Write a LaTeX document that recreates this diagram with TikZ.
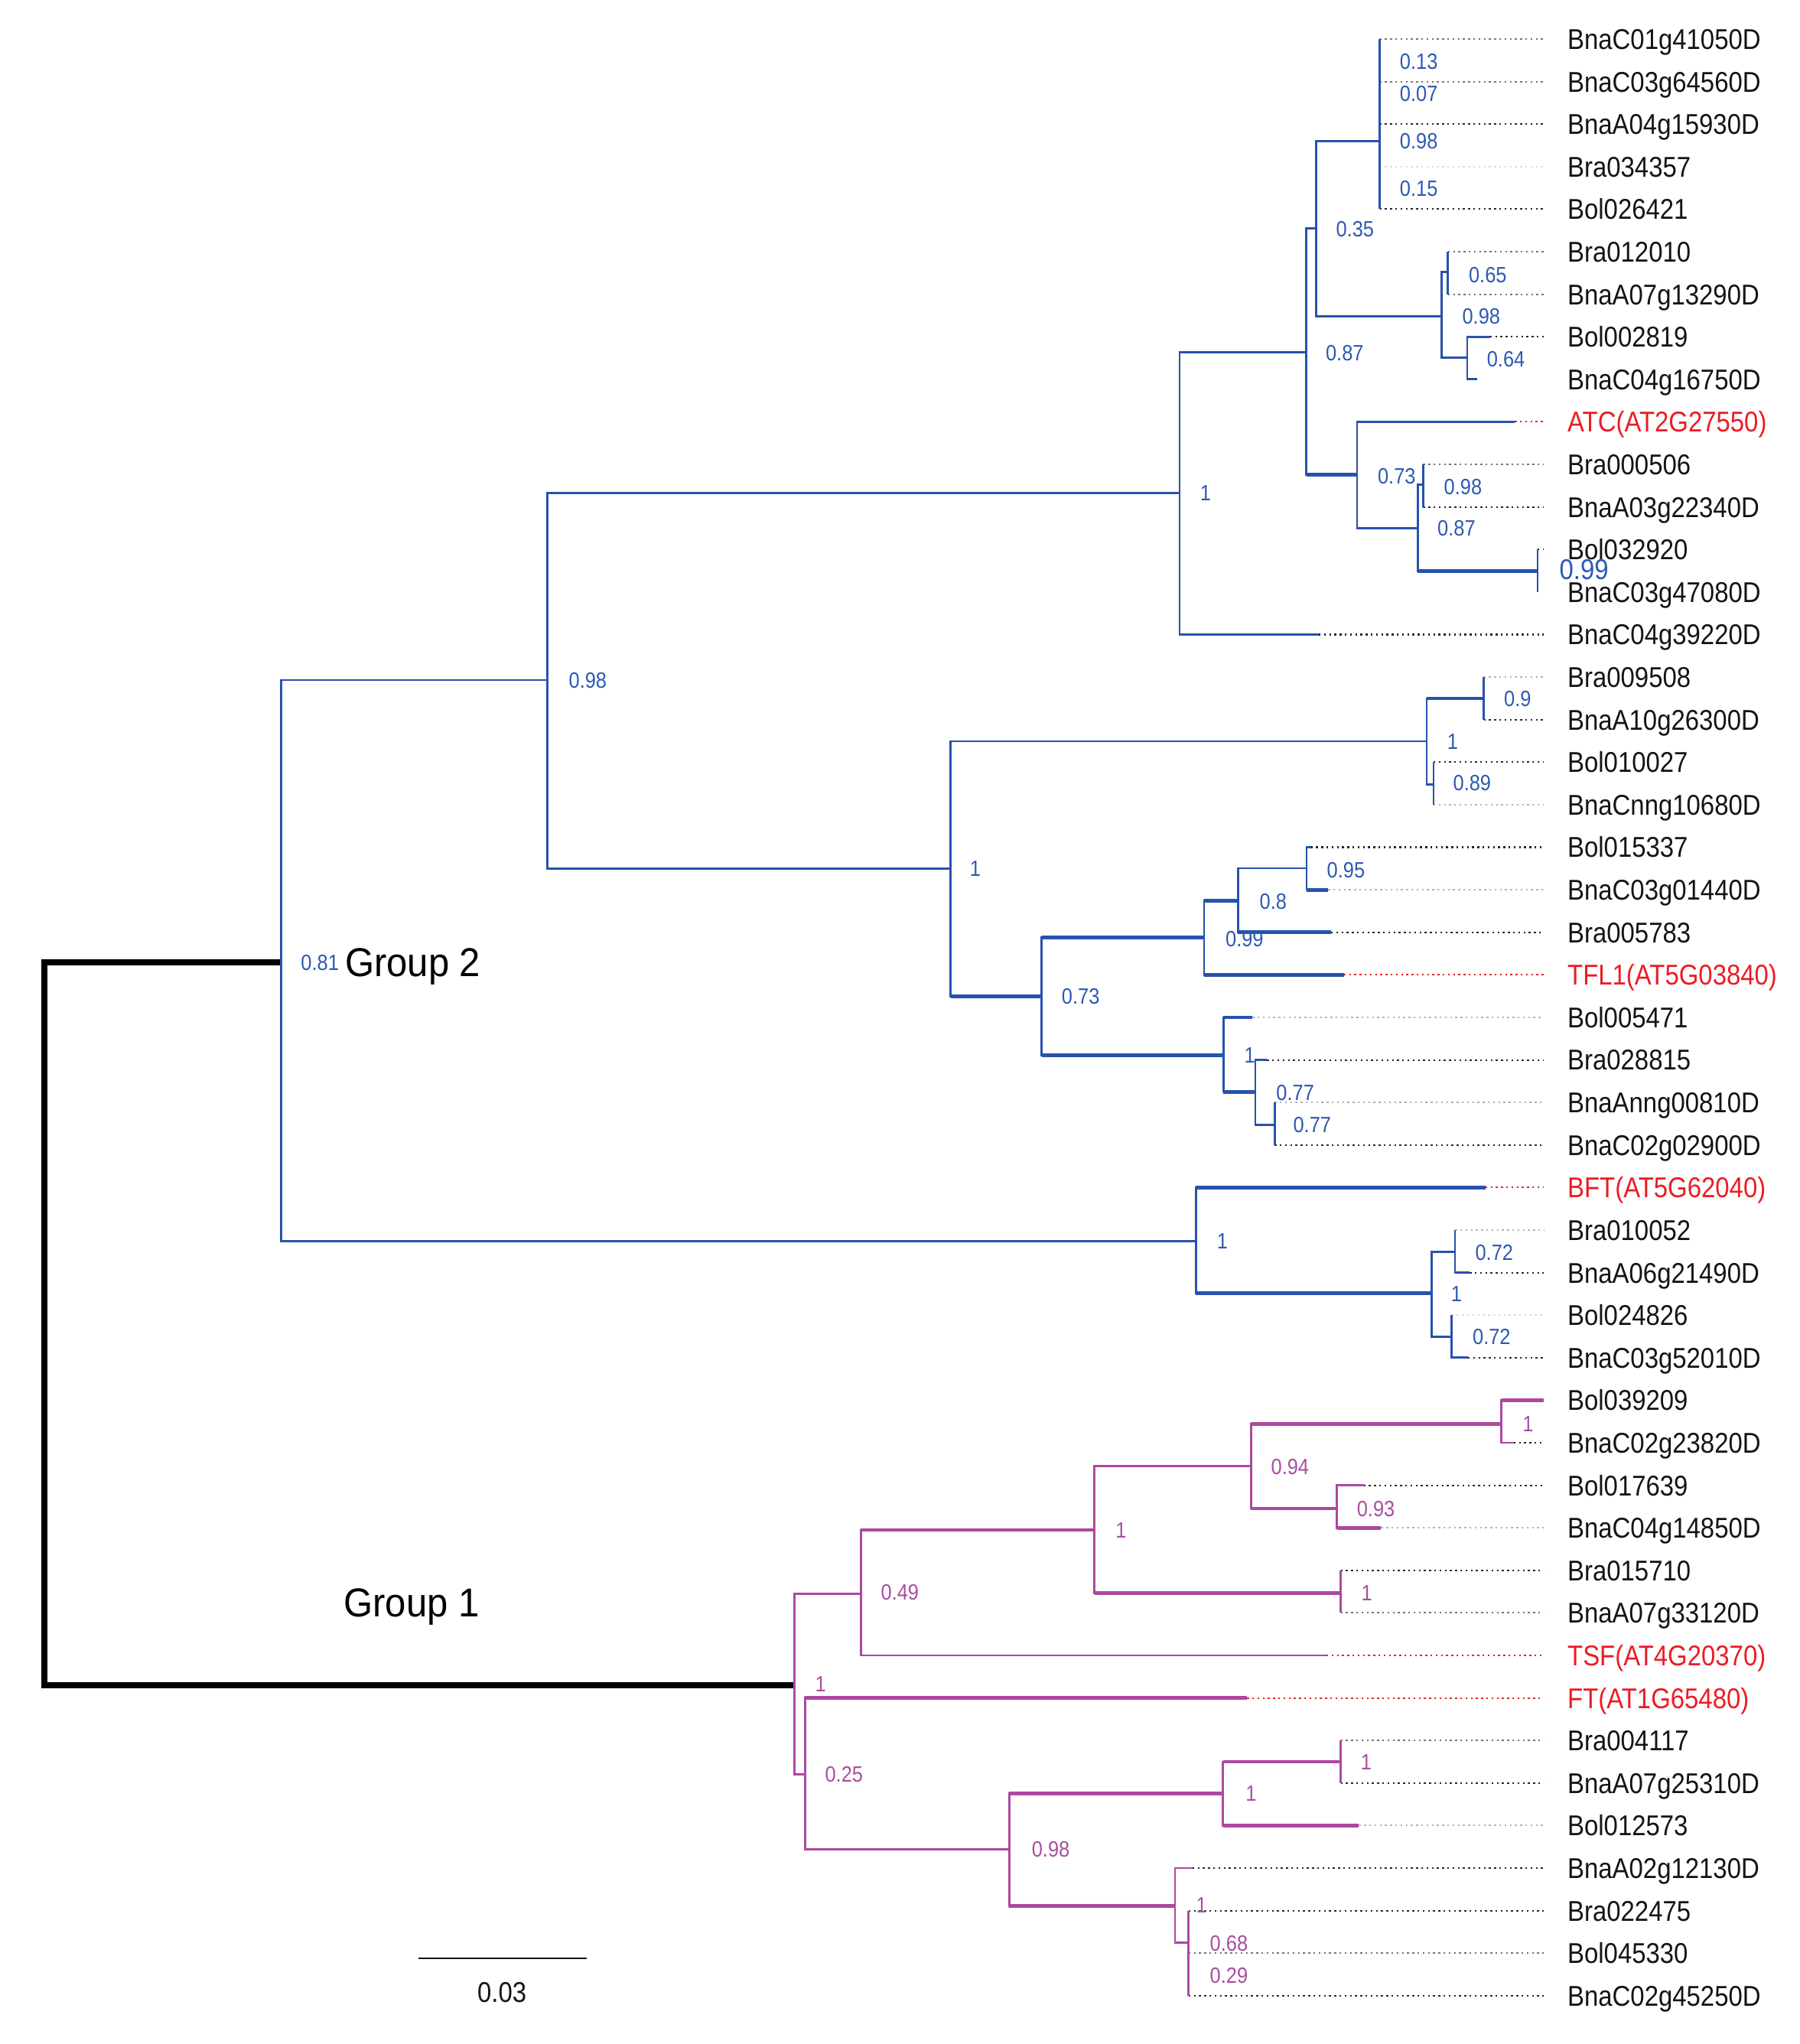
\documentclass[tikz,border=0pt]{standalone}
\usepackage{fontspec}
\setmainfont{Liberation Sans}[FakeStretch=0.88]
\newfontfamily\grpfont{Liberation Sans}[FakeStretch=0.93]
\definecolor{tblue}{RGB}{40,82,172}
\definecolor{tbluet}{RGB}{45,88,180}
\definecolor{tmag}{RGB}{172,72,160}
\definecolor{tmagt}{RGB}{168,78,160}
\definecolor{tred}{RGB}{235,28,36}
\definecolor{tblack}{RGB}{20,20,20}
\pgfmathdeclarefunction{ly}{1}{\pgfmathparse{30+32.71*(#1-1)}}
\newcommand\tleaf[5]{%
  \coordinate (s#1) at (#2,{ly(#1)});
  \coordinate (t#1) at (1187,{ly(#1)});
  \draw[#3] (s#1) -- (t#1);
  \node[leaflab,text=#5] (n#1) at (1205,{ly(#1)}) {#4};
}
\begin{document}
\begin{tikzpicture}[x=0.5pt,y=-0.5pt,
  bl/.style={draw=tblue,line width=0.8pt},
  blk/.style={draw=tblue,line width=1.4pt},
  mg/.style={draw=tmag,line width=0.8pt},
  mgk/.style={draw=tmag,line width=1.4pt},
  rootline/.style={draw=black,line width=2.4pt},
  dk/.style={draw=black!85,line width=0.6pt,dash pattern=on 0.7pt off 1.3pt},
  md/.style={dk,draw=black!55},
  lt/.style={dk,draw=black!30},
  ft/.style={dk,draw=black!14},
  rd/.style={dk,draw=tred},
  leaflab/.style={anchor=west,inner sep=0pt,font=\fontsize{11}{13}\selectfont,text height=7.9pt,text depth=0pt},
  bsb/.style={inner sep=0pt,font=\fontsize{8.5}{10}\selectfont,text height=6.1pt,text depth=0pt,text=tbluet},
  bsm/.style={bsb,text=tmagt},
  grp/.style={anchor=west,inner sep=0pt,font=\grpfont\fontsize{15.5}{18}\selectfont,text height=11.1pt,text depth=0pt}
]
\useasboundingbox (0,0) rectangle (1384.1,1571.8);

% internal nodes
\coordinate (root) at (34,1018);
\coordinate (G2) at (216,740);
\coordinate (A) at (421,523);
\coordinate (B) at (907,379);
\coordinate (C) at (1004.6,270.8);
\coordinate (D) at (1011.9,175.5);
\coordinate (E) at (1061,108.5);
\coordinate (F) at (1108.6,243.2);
\coordinate (G) at (1113.4,209);
\coordinate (H) at (1128.3,275);
\coordinate (I) at (1043.6,365.2);
\coordinate (J) at (1090.2,406);
\coordinate (K) at (1094.4,372.5);
\coordinate (L) at (1182.3,439.2);
\coordinate (M) at (731,668);
\coordinate (N) at (1097,570);
\coordinate (O) at (1141,537);
\coordinate (P) at (1102.3,603.1);
\coordinate (Q) at (801,766);
\coordinate (R) at (925.9,720.7);
\coordinate (S) at (951.9,692.5);
\coordinate (T) at (1004.7,667.6);
\coordinate (U) at (940.7,811.3);
\coordinate (V) at (965.3,839.5);
\coordinate (W) at (980.1,865.1);
\coordinate (X) at (919.7,954.3);
\coordinate (Y) at (1101,994.6);
\coordinate (Z) at (1118.9,962.5);
\coordinate (Zb) at (1116.2,1028.1);
\coordinate (G1) at (611,1296);
\coordinate (AA) at (662,1225.5);
\coordinate (BB) at (619,1364.5);
\coordinate (DD) at (841.5,1176.5);
\coordinate (EE) at (962,1127.5);
\coordinate (FF) at (1154.6,1095);
\coordinate (GG) at (1028,1160);
\coordinate (HH) at (1031,1225);
\coordinate (CC) at (776,1422);
\coordinate (II) at (940.5,1379);
\coordinate (JJ) at (1031,1354.7);
\coordinate (KK) at (903.6,1465.4);
\coordinate (LL) at (914,1494);

% leaves
\tleaf{1}{1061}{md}{BnaC01g41050D}{tblack}
\tleaf{2}{1061}{md}{BnaC03g64560D}{tblack}
\tleaf{3}{1061}{dk}{BnaA04g15930D}{tblack}
\tleaf{4}{1061}{ft}{Bra034357}{tblack}
\tleaf{5}{1061}{dk}{Bol026421}{tblack}
\tleaf{6}{1113.4}{md}{Bra012010}{tblack}
\tleaf{7}{1113.4}{md}{BnaA07g13290D}{tblack}
\tleaf{8}{1145.8}{dk}{Bol002819}{tblack}
\tleaf{9}{1136}{draw=none}{BnaC04g16750D}{tblack}
\tleaf{10}{1164.8}{rd}{ATC(AT2G27550)}{tred}
\tleaf{11}{1094.4}{md}{Bra000506}{tblack}
\tleaf{12}{1094.4}{dk}{BnaA03g22340D}{tblack}
\tleaf{13}{1182.3}{dk}{Bol032920}{tblack}
\tleaf{14}{1182.3}{draw=none}{BnaC03g47080D}{tblack}
\tleaf{15}{1014.1}{dk}{BnaC04g39220D}{tblack}
\tleaf{16}{1141}{lt}{Bra009508}{tblack}
\tleaf{17}{1141}{dk}{BnaA10g26300D}{tblack}
\tleaf{18}{1102.3}{dk}{Bol010027}{tblack}
\tleaf{19}{1102.3}{lt}{BnaCnng10680D}{tblack}
\tleaf{20}{1008}{dk}{Bol015337}{tblack}
\tleaf{21}{1021.3}{lt}{BnaC03g01440D}{tblack}
\tleaf{22}{1023.5}{dk}{Bra005783}{tblack}
\tleaf{23}{1033.4}{rd}{TFL1(AT5G03840)}{tred}
\tleaf{24}{963.1}{lt}{Bol005471}{tblack}
\tleaf{25}{974.3}{dk}{Bra028815}{tblack}
\tleaf{26}{980.1}{lt}{BnaAnng00810D}{tblack}
\tleaf{27}{980.1}{dk}{BnaC02g02900D}{tblack}
\tleaf{28}{1142.2}{rd}{BFT(AT5G62040)}{tred}
\tleaf{29}{1118.9}{lt}{Bra010052}{tblack}
\tleaf{30}{1130.1}{dk}{BnaA06g21490D}{tblack}
\tleaf{31}{1116.2}{ft}{Bol024826}{tblack}
\tleaf{32}{1128.8}{dk}{BnaC03g52010D}{tblack}
\tleaf{33}{1187}{draw=none}{Bol039209}{tblack}
\tleaf{34}{1164}{dk}{BnaC02g23820D}{tblack}
\tleaf{35}{1048.6}{dk}{Bol017639}{tblack}
\tleaf{36}{1062}{lt}{BnaC04g14850D}{tblack}
\tleaf{37}{1031}{dk}{Bra015710}{tblack}
\tleaf{38}{1031}{md}{BnaA07g33120D}{tblack}
\tleaf{39}{1020}{rd}{TSF(AT4G20370)}{tred}
\tleaf{40}{959}{rd}{FT(AT1G65480)}{tred}
\tleaf{41}{1031}{md}{Bra004117}{tblack}
\tleaf{42}{1031}{dk}{BnaA07g25310D}{tblack}
\tleaf{43}{1045}{lt}{Bol012573}{tblack}
\tleaf{44}{917}{dk}{BnaA02g12130D}{tblack}
\tleaf{45}{914}{dk}{Bra022475}{tblack}
\tleaf{46}{914}{md}{Bol045330}{tblack}
\tleaf{47}{914}{dk}{BnaC02g45250D}{tblack}

% root
\draw[rootline] (root) |- (G2);
\draw[rootline] (root) |- (G1);

% Group 2 (blue)
\draw[bl] (G2) |- (A);
\draw[bl] (G2) |- (X);
\draw[bl] (A) |- (B);
\draw[bl] (A) |- (M);
\draw[bl] (B) |- (C);
\draw[bl] (B) |- (s15);
\draw[bl] (C) |- (D);
\draw[bl] (C) |- (I); \draw[blk] (C |- I) -- (I);
\draw[bl] (D) |- (E);
\draw[bl] (D) |- (F);
\foreach \i in {1,...,5} {\draw[bl] (E) |- (s\i);}
\draw[bl] (F) |- (G);
\draw[bl] (F) |- (H);
\draw[bl] (G) |- (s6);
\draw[bl] (G) |- (s7);
\draw[bl] (H) |- (s8);
\draw[bl] (H) |- (s9);
\draw[bl] (I) |- (s10);
\draw[bl] (I) |- (J);
\draw[bl] (J) |- (K);
\draw[bl] (J) |- (L); \draw[blk] (J |- L) -- (L);
\draw[bl] (K) |- (s11);
\draw[bl] (K) |- (s12);
\draw[bl] (L) |- (s13);
\draw[bl] (L) |- (s14);
\draw[bl] (M) |- (N);
\draw[bl] (M) |- (Q); \draw[blk] (M |- Q) -- (Q);
\draw[bl] (N) |- (O); \draw[blk] (N |- O) -- (O);
\draw[bl] (N) |- (P);
\draw[bl] (O) |- (s16);
\draw[bl] (O) |- (s17);
\draw[bl] (P) |- (s18);
\draw[bl] (P) |- (s19);
\draw[bl] (Q) |- (R); \draw[blk] (Q |- R) -- (R);
\draw[bl] (Q) |- (U); \draw[blk] (Q |- U) -- (U);
\draw[bl] (R) |- (S); \draw[blk] (R |- S) -- (S);
\draw[bl] (R) |- (s23); \draw[blk] (R |- s23) -- (s23);
\draw[bl] (S) |- (T);
\draw[bl] (S) |- (s22); \draw[blk] (S |- s22) -- (s22);
\draw[bl] (T) |- (s20);
\draw[bl] (T) |- (s21); \draw[blk] (T |- s21) -- (s21);
\draw[bl] (U) |- (s24); \draw[blk] (U |- s24) -- (s24);
\draw[bl] (U) |- (V); \draw[blk] (U |- V) -- (V);
\draw[bl] (V) |- (s25);
\draw[bl] (V) |- (W);
\draw[bl] (W) |- (s26);
\draw[bl] (W) |- (s27);
\draw[bl] (X) |- (s28); \draw[blk] (X |- s28) -- (s28);
\draw[bl] (X) |- (Y); \draw[blk] (X |- Y) -- (Y);
\draw[bl] (Y) |- (Z);
\draw[bl] (Y) |- (Zb);
\draw[bl] (Z) |- (s29);
\draw[bl] (Z) |- (s30);
\draw[bl] (Zb) |- (s31);
\draw[bl] (Zb) |- (s32);

% Group 1 (magenta)
\draw[mg] (G1) |- (AA);
\draw[mg] (G1) |- (BB);
\draw[mg] (AA) |- (DD); \draw[mgk] (AA |- DD) -- (DD);
\draw[mg] (AA) |- (s39);
\draw[mg] (DD) |- (EE);
\draw[mg] (DD) |- (HH); \draw[mgk] (DD |- HH) -- (HH);
\draw[mg] (EE) |- (FF); \draw[mgk] (EE |- FF) -- (FF);
\draw[mg] (EE) |- (GG); \draw[mgk] (EE |- GG) -- (GG);
\draw[mg] (FF) |- (s33); \draw[mgk] (FF |- s33) -- (s33);
\draw[mg] (FF) |- (s34);
\draw[mg] (GG) |- (s35);
\draw[mg] (GG) |- (s36); \draw[mgk] (GG |- s36) -- (s36);
\draw[mg] (HH) |- (s37);
\draw[mg] (HH) |- (s38);
\draw[mg] (BB) |- (s40); \draw[mgk] (BB |- s40) -- (s40);
\draw[mg] (BB) |- (CC);
\draw[mg] (CC) |- (II); \draw[mgk] (CC |- II) -- (II);
\draw[mg] (CC) |- (KK); \draw[mgk] (CC |- KK) -- (KK);
\draw[mg] (II) |- (JJ); \draw[mgk] (II |- JJ) -- (JJ);
\draw[mg] (II) |- (s43); \draw[mgk] (II |- s43) -- (s43);
\draw[mg] (JJ) |- (s41);
\draw[mg] (JJ) |- (s42);
\draw[mg] (KK) |- (s44);
\draw[mg] (KK) |- (LL);
\draw[mg] (LL) |- (s45);
\draw[mg] (LL) |- (s46);
\draw[mg] (LL) |- (s47);

% support values, blue
\node[bsb] (b1) at (1091,47) {0.13};
\node[bsb] (b2) at (1091,72) {0.07};
\node[bsb] (b3) at (1091,108.5) {0.98};
\node[bsb] (b4) at (1091,145) {0.15};
\node[bsb] (b5) at (1042,176) {0.35};
\node[bsb] (b6) at (1144,211) {0.65};
\node[bsb] (b7) at (1139,243) {0.98};
\node[bsb] (b8) at (1158,276) {0.64};
\node[bsb] (b9) at (1034,271) {0.87};
\node[bsb] (b10) at (927,379) {1};
\node[bsb] (b11) at (1074,366) {0.73};
\node[bsb] (b12) at (1125,374) {0.98};
\node[bsb] (b13) at (1120,406) {0.87};
\node[bsb,font=\fontsize{11}{13}\selectfont,text height=7.9pt] (b14) at (1218,437.5) {0.99};
\node[bsb] (b15) at (452,523) {0.98};
\node[bsb] (b16) at (1167,537) {0.9};
\node[bsb] (b17) at (1117,570) {1};
\node[bsb] (b18) at (1132,602) {0.89};
\node[bsb] (b19) at (750,668) {1};
\node[bsb] (b20) at (1035,669) {0.95};
\node[bsb] (b21) at (979,693) {0.8};
\node[bsb] (b22) at (957,722) {0.99};
\node[bsb] (b23) at (831,766) {0.73};
\node[bsb] (b24) at (961,811) {1};
\node[bsb] (b25) at (996,840) {0.77};
\node[bsb] (b26) at (1009,865) {0.77};
\node[bsb] (b27) at (940,954) {1};
\node[bsb] (b28) at (1149,963) {0.72};
\node[bsb] (b29) at (1120,995) {1};
\node[bsb] (b30) at (1147,1028) {0.72};
\node[bsb] (b31) at (246,740) {0.81};

% support values, magenta
\node[bsm] (m1) at (1175,1095) {1};
\node[bsm] (m2) at (992,1128) {0.94};
\node[bsm] (m3) at (1058,1160) {0.93};
\node[bsm] (m4) at (862,1176.5) {1};
\node[bsm] (m5) at (1051,1225) {1};
\node[bsm] (m6) at (692,1224) {0.49};
\node[bsm] (m7) at (631,1295) {1};
\node[bsm] (m8) at (649,1364) {0.25};
\node[bsm] (m9) at (1050.6,1354.7) {1};
\node[bsm] (m10) at (962,1379) {1};
\node[bsm] (m11) at (808,1422) {0.98};
\node[bsm] (m12) at (924,1465) {1};
\node[bsm] (m13) at (945,1494) {0.68};
\node[bsm] (m14) at (945,1519) {0.29};

% group labels
\node[grp] (g2) at (265,740) {Group 2};
\node[grp] (g1) at (264,1232) {Group 1};

% scale bar
\coordinate (sbl) at (322,1506);
\coordinate (sbr) at (451,1506);
\draw[line width=0.75pt,draw=tblack] (sbl) -- (sbr);
\node[leaflab,anchor=center,text=tblack] (sbt) at (386,1532) {0.03};
\end{tikzpicture}
\end{document}
